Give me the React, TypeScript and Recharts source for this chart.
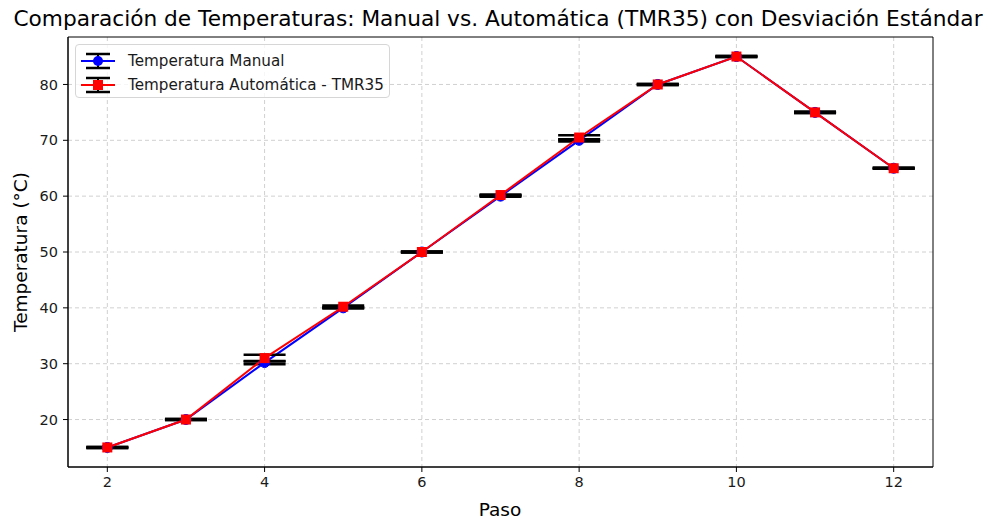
import React from 'react'
import {
  ComposedChart,
  Line,
  XAxis,
  YAxis,
  CartesianGrid,
  ErrorBar,
  ReferenceArea,
} from 'recharts'

const paso = [2, 3, 4, 5, 6, 7, 8, 9, 10, 11, 12]
const manual = [15, 20, 30.2, 40, 50, 60, 70, 80, 85, 75, 65]
const manualStd = [0.1, 0.1, 0.3, 0.1, 0.1, 0.1, 0.2, 0.1, 0.1, 0.1, 0.1]
const automatica = [15, 20, 31, 40.2, 50, 60.2, 70.5, 80, 85, 75, 65]
const automaticaStd = [0.1, 0.1, 0.6, 0.2, 0.1, 0.1, 0.4, 0.1, 0.1, 0.1, 0.1]
const xTicks = [2, 4, 6, 8, 10, 12]
const yTicks = [20, 30, 40, 50, 60, 70, 80]

const data = paso.map((p, i) => ({
  paso: p,
  manual: manual[i],
  manualErr: manualStd[i],
  automatica: automatica[i],
  automaticaErr: automaticaStd[i],
}))

const FONT = '"DejaVu Sans", sans-serif'

const BlueDot = (props: any) => {
  const { cx, cy } = props
  if (cx == null || cy == null) return null
  return <circle cx={cx} cy={cy} r={5} fill="#0000ff" stroke="#0000ff" />
}

const RedSquare = (props: any) => {
  const { cx, cy } = props
  if (cx == null || cy == null) return null
  return <rect x={cx - 5} y={cy - 5} width={10} height={10} fill="#ff0000" />
}

function LegendIcon({ color, square }: { color: string; square?: boolean }) {
  return (
    <svg width={34} height={20} style={{ display: 'block' }}>
      <line x1={17} y1={2} x2={17} y2={18} stroke="#000" strokeWidth={2} />
      <line x1={5} y1={3} x2={29} y2={3} stroke="#000" strokeWidth={2.5} />
      <line x1={5} y1={17} x2={29} y2={17} stroke="#000" strokeWidth={2.5} />
      <line x1={0} y1={10} x2={34} y2={10} stroke={color} strokeWidth={2} />
      {square ? (
        <rect x={12} y={5} width={10} height={10} fill={color} />
      ) : (
        <circle cx={17} cy={10} r={5} fill={color} />
      )}
    </svg>
  )
}

export default function App() {
  return (
    <div style={{ position: 'absolute', left: 0, top: 0, width: 989, height: 518, background: '#fff', fontFamily: FONT }}>
      <div
        style={{
          position: 'absolute',
          left: 498,
          top: 18,
          transform: 'translate(-50%, -50%)',
          fontSize: 21.7,
          color: '#000',
          whiteSpace: 'nowrap',
        }}
      >
        Comparación de Temperaturas: Manual vs. Automática (TMR35) con Desviación Estándar
      </div>
      <div
        style={{
          position: 'absolute',
          left: 20,
          top: 252,
          transform: 'translate(-50%, -50%) rotate(-90deg)',
          fontSize: 18.5,
          color: '#000',
          whiteSpace: 'nowrap',
        }}
      >
        Temperatura (°C)
      </div>
      <div
        style={{
          position: 'absolute',
          left: 500,
          top: 509,
          transform: 'translate(-50%, -50%)',
          fontSize: 18.5,
          color: '#000',
        }}
      >
        Paso
      </div>
      <ComposedChart
        width={989}
        height={518}
        data={data}
        margin={{ top: 37, right: 56, bottom: 11, left: 8 }}
        style={{ position: 'absolute', left: 0, top: 0 }}
      >
        <CartesianGrid stroke="#d0d0d0" strokeDasharray="4 3" verticalValues={xTicks} horizontalValues={yTicks} />
        <XAxis
          dataKey="paso"
          type="number"
          domain={[1.5, 12.5]}
          ticks={xTicks}
          height={40}
          stroke="#000"
          tickLine={{ stroke: '#000' }}
          tickSize={5}
          tickMargin={5}
          tick={{ fontSize: 14.5, fill: '#1a1a1a', fontFamily: FONT }}
          allowDataOverflow
        />
        <YAxis
          type="number"
          domain={[11.5, 88.5]}
          ticks={yTicks}
          width={60}
          stroke="#000"
          tickLine={{ stroke: '#000' }}
          tickSize={5}
          tickMargin={5}
          tick={{ fontSize: 14.5, fill: '#1a1a1a', fontFamily: FONT }}
          allowDataOverflow
        />
        <ReferenceArea
          x1={1.5}
          x2={12.5}
          y1={11.5}
          y2={88.5}
          fill="none"
          stroke="#000"
          strokeWidth={1}
          fillOpacity={0}
          ifOverflow="visible"
        />
        <Line
          dataKey="manual"
          stroke="#0000ff"
          strokeWidth={2}
          dot={<BlueDot />}
          activeDot={false}
          isAnimationActive={false}
          type="linear"
        >
          <ErrorBar dataKey="manualErr" direction="y" width={21} stroke="#000" strokeWidth={2.5} />
        </Line>
        <Line
          dataKey="automatica"
          stroke="#ff0000"
          strokeWidth={2}
          dot={<RedSquare />}
          activeDot={false}
          isAnimationActive={false}
          type="linear"
        >
          <ErrorBar dataKey="automaticaErr" direction="y" width={21} stroke="#000" strokeWidth={2.5} />
        </Line>
      </ComposedChart>
      <div
        style={{
          position: 'absolute',
          left: 75,
          top: 44,
          width: 315,
          height: 54,
          border: '1px solid #d6d6d6',
          borderRadius: 4,
          background: 'rgba(255,255,255,0.8)',
          boxSizing: 'border-box',
          padding: '4px 0 0 5px',
          fontSize: 15.2,
          color: '#1a1a1a',
        }}
      >
        <div style={{ display: 'flex', alignItems: 'center', height: 24 }}>
          <LegendIcon color="#0000ff" />
          <span style={{ marginLeft: 13 }}>Temperatura Manual</span>
        </div>
        <div style={{ display: 'flex', alignItems: 'center', height: 24 }}>
          <LegendIcon color="#ff0000" square />
          <span style={{ marginLeft: 13 }}>Temperatura Automática - TMR35</span>
        </div>
      </div>
    </div>
  )
}
